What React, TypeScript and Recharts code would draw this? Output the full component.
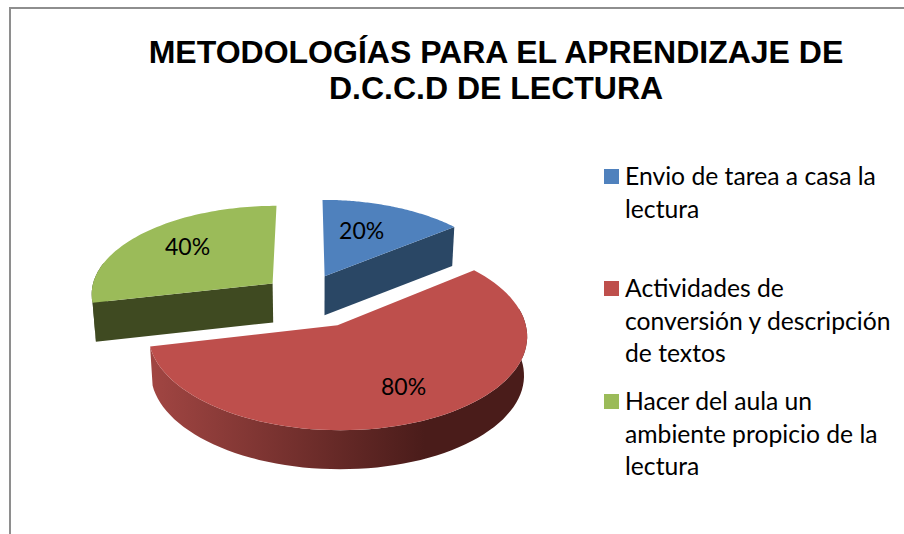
import React from "react";
import { PieChart, Pie, Legend } from "recharts";

// ─── Data ─────────────────────────────────────────────────────────────────────

const titleLines = ["METODOLOGÍAS PARA EL APRENDIZAJE DE", "D.C.C.D DE LECTURA"];

const legendLines = [
  ["Envio de tarea a casa la", "lectura"],
  ["Actividades de", "conversión y descripción", "de textos"],
  ["Hacer del aula un", "ambiente propicio de la", "lectura"],
];

const values = [20, 80, 40];
const topColors = ["#4F81BD", "#BE4F4C", "#9BBB59"];
const cutColors = ["#2A4765", "#4A1C1A", "#3F4A21"];

const chartData = values.map((value, i) => ({
  name: legendLines[i].join(" "),
  value,
  fill: topColors[i],
  idx: i,
}));

// ─── Layout ───────────────────────────────────────────────────────────────────

const WIDTH = 904;
const HEIGHT = 534;
const CENTER_X = 316;
const CENTER_Y = 300;
const RADIUS = 183;
const EXPLODE = 56;
const TILT = 0.485;
const PERSPECTIVE = 0.00056;
const DEPTH = 39;
const CONVERGE = 0.985;

// sideways correction of each exploded slice, in px
const sliceShift = [-15, -3.5, -0.5];
// percent label centre relative to the slice's apex, in px
const labelOffset = [
  [37, -46],
  [66, 61],
  [-85, -37],
];
const legendTops = [160, 272, 385];

const FONT = "Lato, 'Open Sans', sans-serif";

// ─── Fake 3D projection of the pie's ground plane ─────────────────────────────

type Pt = { x: number; y: number };

const project = (cx: number, cy: number, wx: number, wz: number): Pt => {
  const f = 1 / (1 - PERSPECTIVE * wz);
  return { x: cx + wx * f, y: cy + TILT * wz * f };
};

const drop = (p: Pt, cx: number): Pt => ({
  x: cx + (p.x - cx) * CONVERGE,
  y: p.y + DEPTH,
});

const toPath = (pts: Pt[]) =>
  pts.map((p, i) => `${i ? "L" : "M"}${p.x.toFixed(1)},${p.y.toFixed(1)}`).join(" ") + " Z";

const clockwise = (a: number) => ((90 - a) * Math.PI) / 180;

const apexOf = (cx: number, cy: number, midAngle: number, index: number) => {
  const mid = clockwise(midAngle);
  return project(
    cx + sliceShift[index],
    cy,
    EXPLODE * Math.sin(mid),
    -EXPLODE * Math.cos(mid),
  );
};

const Slice3D = (props: any) => {
  const { cx, cy, outerRadius, startAngle, endAngle, midAngle, fill, idx } = props;
  const mid = clockwise(midAngle);
  const ox = cx + sliceShift[idx];
  const ax = EXPLODE * Math.sin(mid);
  const az = -EXPLODE * Math.cos(mid);
  const apex = apexOf(cx, cy, midAngle, idx);
  const t0 = clockwise(startAngle);
  const t1 = clockwise(endAngle);

  const steps = 80;
  const rim: Pt[] = [];
  const frontRim: Pt[] = [];
  for (let s = 0; s <= steps; s++) {
    const t = t0 + ((t1 - t0) * s) / steps;
    const p = project(ox, cy, ax + outerRadius * Math.sin(t), az - outerRadius * Math.cos(t));
    rim.push(p);
    const deg = (t * 180) / Math.PI;
    if (deg > 78 && deg < 285) frontRim.push(p);
  }

  const first = rim[0];
  const last = rim[rim.length - 1];
  const cutA = [apex, first, drop(first, cx), drop(apex, cx)];
  const cutB = [apex, last, drop(last, cx), drop(apex, cx)];
  const outer = [...frontRim, ...frontRim.map((p) => drop(p, cx)).reverse()];
  const gradId = `rim-${idx}`;

  return (
    <g>
      <defs>
        <linearGradient id={gradId} gradientUnits="userSpaceOnUse" x1={155} y1={0} x2={425} y2={0}>
          <stop offset="0%" stopColor={idx === 1 ? "#A04542" : cutColors[idx]} />
          <stop offset="100%" stopColor={cutColors[idx]} />
        </linearGradient>
      </defs>
      {/* only the cut faces turned towards the viewer get a wall */}
      {Math.sin(t0) < -0.01 && <path d={toPath(cutA)} fill={cutColors[idx]} />}
      {Math.sin(t1) > 0.01 && <path d={toPath(cutB)} fill={cutColors[idx]} />}
      {outer.length > 2 && <path d={toPath(outer)} fill={`url(#${gradId})`} />}
      <path d={toPath([apex, ...rim])} fill={fill} />
    </g>
  );
};

const PercentLabel = (props: any) => {
  const { cx, cy, midAngle, value, index } = props;
  const apex = apexOf(cx, cy, midAngle, index);
  return (
    <text
      x={apex.x + labelOffset[index][0]}
      y={apex.y + labelOffset[index][1]}
      textAnchor="middle"
      dominantBaseline="central"
      fontFamily={FONT}
      fontSize={23}
      fill="#000"
    >
      {value}%
    </text>
  );
};

// ─── Legend ───────────────────────────────────────────────────────────────────

const SideLegend = () => (
  <div style={{ position: "relative", width: WIDTH, height: 0 }}>
    {legendLines.map((lines, i) => (
      <div key={i} style={{ position: "absolute", left: 604, top: legendTops[i] }}>
        <span
          style={{
            position: "absolute",
            left: 0,
            top: 9,
            width: 15,
            height: 15,
            backgroundColor: topColors[i],
          }}
        />
        <div
          style={{
            marginLeft: 21,
            fontFamily: FONT,
            fontSize: 24.7,
            lineHeight: "32.5px",
            color: "#000",
            whiteSpace: "nowrap",
            textAlign: "left",
          }}
        >
          {lines.map((line) => (
            <div key={line}>{line}</div>
          ))}
        </div>
      </div>
    ))}
  </div>
);

// ─── Component ────────────────────────────────────────────────────────────────

export default function App() {
  return (
    <div
      style={{
        position: "absolute",
        left: 0,
        top: 0,
        width: WIDTH,
        height: HEIGHT,
        overflow: "hidden",
        background: "#fff",
      }}
    >
      {/* chart frame runs off the right and bottom of the picture */}
      <div
        style={{
          position: "absolute",
          left: 9,
          top: 7,
          width: WIDTH,
          height: HEIGHT,
          borderLeft: "2px solid #8E8E8E",
          borderTop: "2px solid #8E8E8E",
        }}
      />
      <PieChart width={WIDTH} height={HEIGHT} margin={{ top: 0, right: 0, bottom: 0, left: 0 }}>
        <Pie
          data={chartData}
          dataKey="value"
          nameKey="name"
          cx={CENTER_X}
          cy={CENTER_Y}
          outerRadius={RADIUS}
          startAngle={90}
          endAngle={-270}
          stroke="none"
          isAnimationActive={false}
          shape={Slice3D}
          label={PercentLabel}
          labelLine={false}
        />
        <Legend content={SideLegend} wrapperStyle={{ left: 0, top: 0, bottom: "auto", width: WIDTH, height: 0 }} />
      </PieChart>
      <div
        style={{
          position: "absolute",
          left: 96,
          top: 34,
          width: 800,
          textAlign: "center",
          fontFamily: "'Liberation Sans', Arial, sans-serif",
          fontWeight: 700,
          fontSize: 32,
          lineHeight: "36px",
          color: "#000",
        }}
      >
        {titleLines.map((line) => (
          <div key={line}>{line}</div>
        ))}
      </div>
    </div>
  );
}
